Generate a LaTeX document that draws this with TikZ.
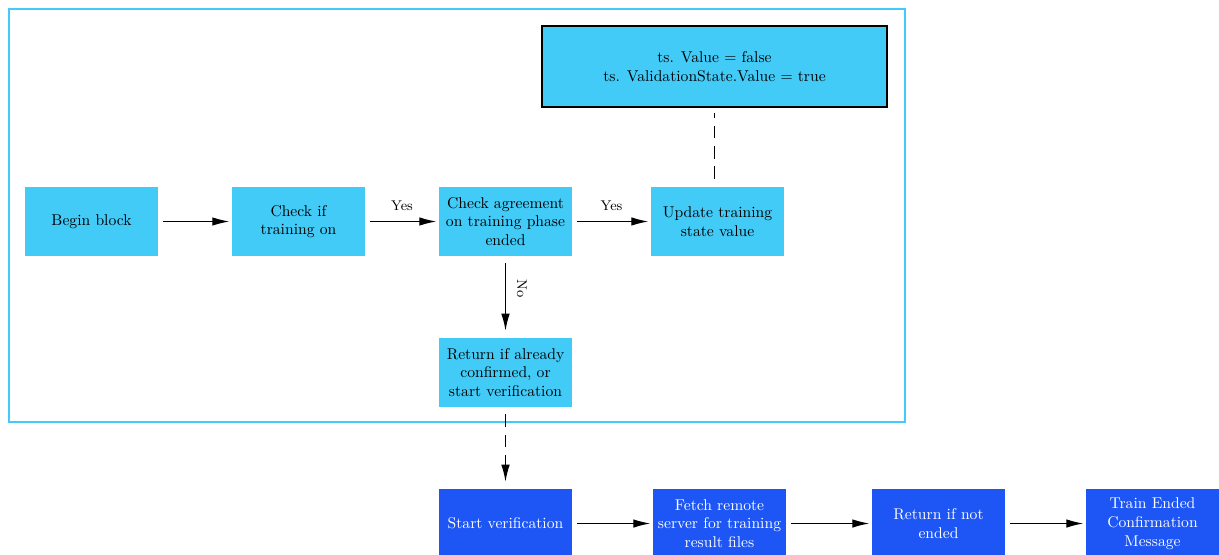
\documentclass[tikz,border=0pt]{standalone}
\usetikzlibrary{arrows.meta}
\definecolor{skyfill}{RGB}{66,203,247}
\definecolor{deepblue}{RGB}{30,86,245}
\tikzset{
  box/.style={rectangle, fill=skyfill, minimum width=85pt, minimum height=44pt,
    inner sep=1pt, align=center, font=\normalsize},
  bluebox/.style={box, fill=deepblue, text=white},
  statebox/.style={rectangle, fill=skyfill, draw=black, line width=1.2pt,
    minimum width=221pt, minimum height=52pt, align=center},
  arr/.style={-{Latex[length=11pt,width=5.5pt]}, line width=0.9pt,
    shorten <=3pt, shorten >=1.5pt},
  varr/.style={arr, shorten <=4.5pt, shorten >=4.5pt},
  dashline/.style={line width=0.9pt, dash pattern=on 8pt off 5pt},
  lbl/.style={font=\small}
}
\begin{document}
\begin{tikzpicture}[x=0.64pt, y=-0.64pt]
\useasboundingbox (0,0) rectangle (1219,555);
% enclosing frame of the training block
\draw[skyfill, line width=1.3pt] (9,9) rectangle (905,422);

\node[box] (begin) at (91.5,221.5) {Begin block};
\node[box] (check) at (298.5,221.5) {Check if\\training on};
\node[box] (agree) at (505.5,221.5) {Check agreement\\on training phase\\ended};
\node[box] (update) at (717.5,221.5) {Update training\\state value};
\node[box] (ret) at (505.5,372.5) {Return if already\\confirmed, or\\start verification};
\node[statebox] (state) at (714.5,66.5) {ts. Value = false\\ts. ValidationState.Value = true};

\node[bluebox] (start) at (505.5,523.5) {Start verification};
\node[bluebox] (fetch) at (719.5,523.5) {Fetch remote\\server for training\\result files};
\node[bluebox] (notend) at (938.5,523.5) {Return if not\\ended};
\node[bluebox] (msg) at (1152.5,523.5) {Train Ended\\Confirmation\\Message};

\draw[arr] (begin) -- (check);
\draw[arr] (check) -- node[lbl, above=3pt] {Yes} (agree);
\draw[arr] (agree) -- node[lbl, above=3pt] {Yes} (update);
\draw[varr] (agree) -- node[lbl, pos=0.4, rotate=-90, anchor=south, yshift=3.5pt] {No} (ret);
\draw[dashline, shorten <=5pt, shorten >=3pt] (update.north -| state.south) -- (state.south);
\draw[varr, dashline] (ret) -- (start);
\draw[arr] (start) -- (fetch);
\draw[arr] (fetch) -- (notend);
\draw[arr] (notend) -- (msg);
\end{tikzpicture}
\end{document}
